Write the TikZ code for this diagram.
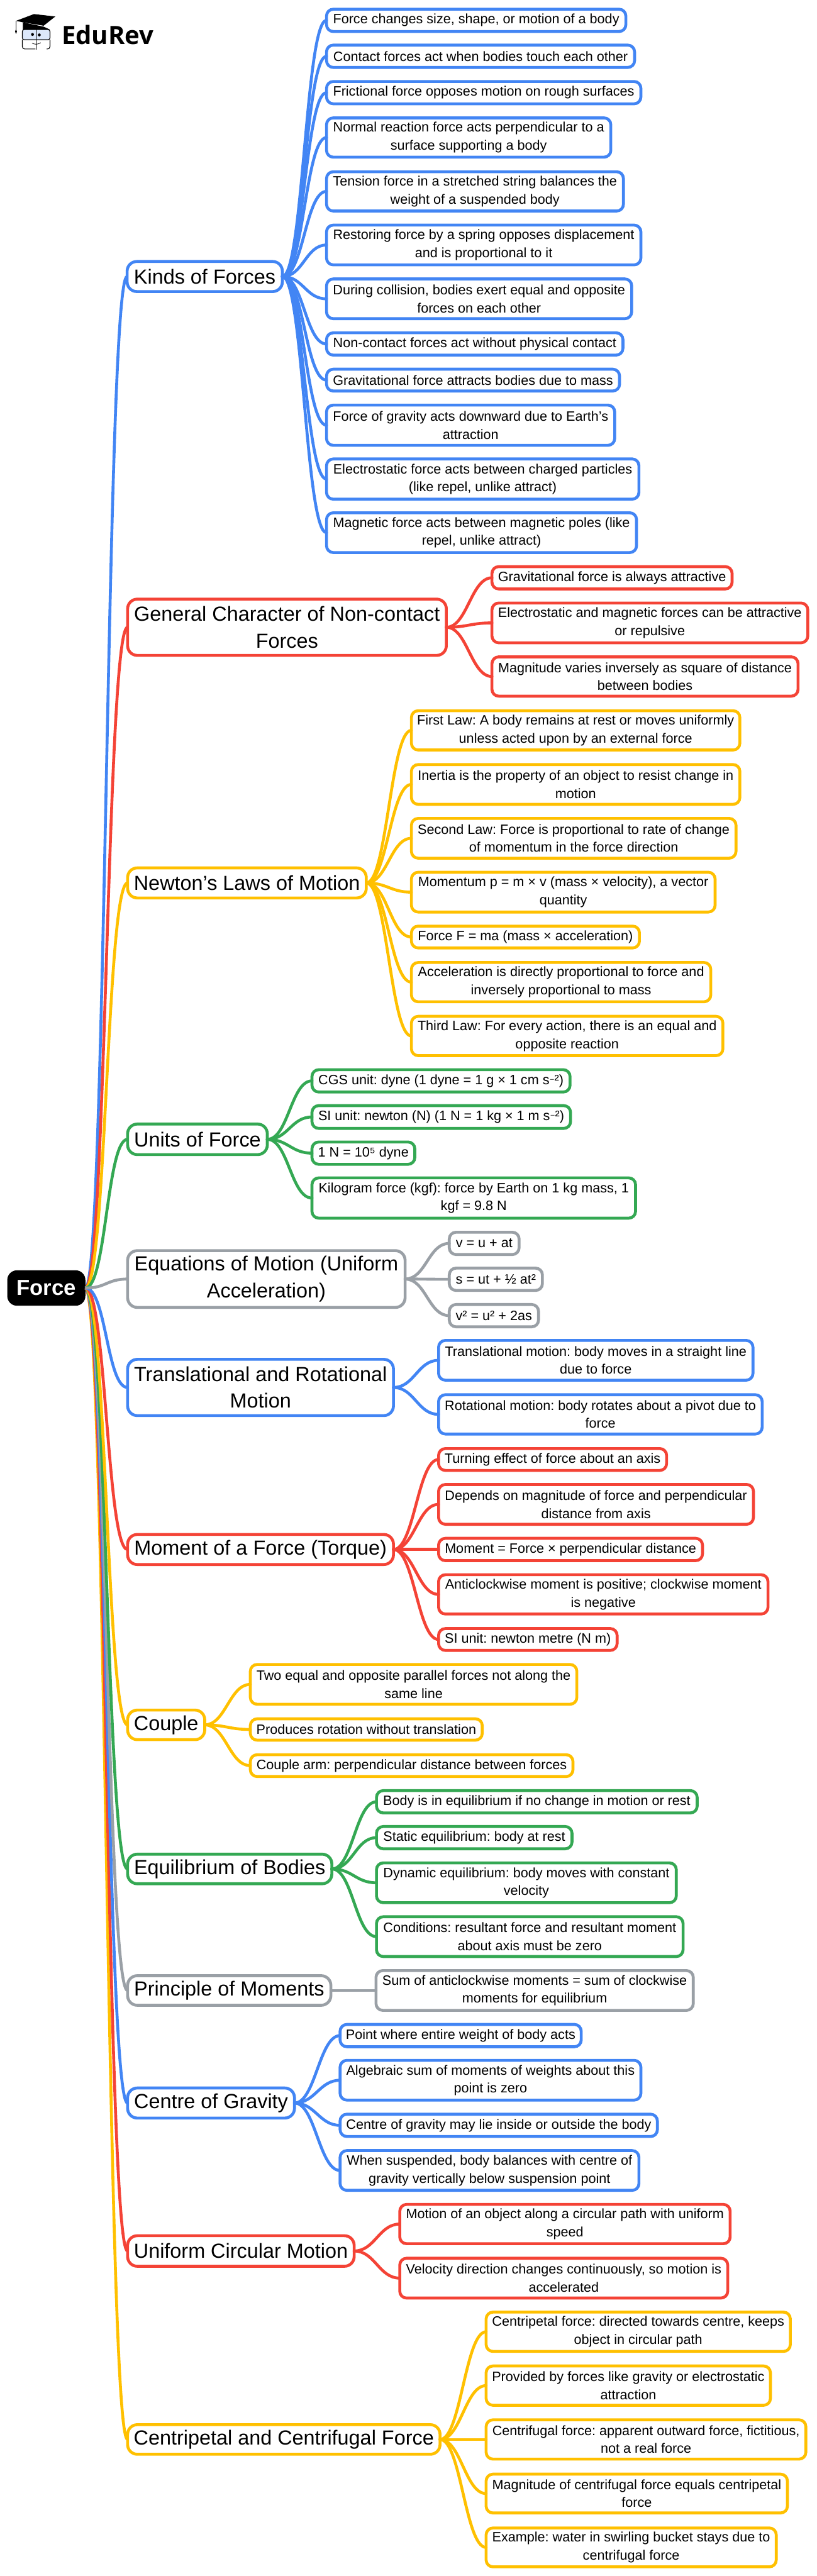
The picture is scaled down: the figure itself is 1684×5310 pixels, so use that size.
\documentclass[tikz,border=0pt]{standalone}
\usepackage{fontspec}
\setmainfont{Liberation Sans}
\newfontfamily\logofont{Open Sans}
\newfontfamily\supfont{DejaVu Sans}
\usepackage{xcolor}
\definecolor{mapblue}{HTML}{4285F4}
\definecolor{mapred}{HTML}{F44336}
\definecolor{mapyellow}{HTML}{FFC000}
\definecolor{mapgreen}{HTML}{34A853}
\definecolor{mapgrey}{HTML}{9AA0A6}
\definecolor{lensblue}{HTML}{DCE8FB}
\tikzset{
	leaf/.style={draw=#1,line width=6pt,rounded corners=14pt,fill=white,inner sep=0pt,outer sep=0pt,align=center,font=\fontsize{28}{37}\selectfont},
	branch/.style={draw=#1,line width=6pt,rounded corners=20pt,fill=white,inner sep=0pt,outer sep=0pt,align=center,font=\fontsize{42}{55}\selectfont},
	link/.style={draw=#1,line width=6pt}
}
\newcommand{\supminus}{{\supfont\fontsize{20}{37}\selectfont ⁻}}
% colour, parent, name, left, right, top, bottom, text
\newcommand{\sprig}[8]{
	\node[leaf=#1,minimum width={#5-#4-6},minimum height={#7-#6-6}] (#3) at ({(#4+#5)/2},{(#6+#7)/2}) {#8};
	\draw[link=#1,line cap=round] (#2.east) .. controls +(43,0) and +(-43,0) .. (#3.west);
}
\begin{document}
\frenchspacing
\begin{tikzpicture}[x=1pt,y=-1pt]
	\useasboundingbox (0,0) rectangle (1684,5310);
	
	%logo
	\fill (33,43) -- (70,29) -- (114,34) -- (90,53) -- (47,46) -- cycle;
	\fill (47,46) -- (90,55) -- (103,61) -- (47,61) -- cycle;
	\draw[line width=1pt] (33,43) -- (33,62);
	\fill (33,60) -- (35,65) -- (33,70) -- (31,65) -- cycle;
	\draw[line width=1.5pt,fill=lensblue,rounded corners=4pt] (46,61) rectangle (103,82);
	\draw[line width=1.5pt,rounded corners=5pt] (46,82) -- (46,101) -- (73,101) (103,82) -- (103,101) -- (96,101);
	\draw[line width=1.5pt] (74,60) -- (74,103);
	\fill (67,71) circle (3pt);
	\fill (81,72) circle (3pt);
	\draw[line width=1pt] (66,89) .. controls (72,92) and (78,92) .. (84,88);
	\node[anchor=base west,inner sep=0pt,font=\fontsize{52}{52}\logofont\bfseries] (logotext) at (127,91) {EduRev};
	
	\node[fill=black,text=white,rounded corners=20pt,inner sep=0pt,outer sep=0pt,minimum width=161,minimum height=73,font=\fontsize{45}{55}\selectfont\bfseries] (force) at (95.5,2655) {Force};
	
	%Kinds of Forces
	\node[branch=mapblue,minimum width=320,minimum height=62] (kinds) at (422,570) {Kinds of Forces};
	\sprig{mapblue}{kinds}{ka}{670}{1293}{16}{68}{Force changes size, shape, or motion of a body}
	\sprig{mapblue}{kinds}{kb}{670}{1311}{90}{142}{Contact forces act when bodies touch each other}
	\sprig{mapblue}{kinds}{kc}{670}{1324}{165}{217}{Frictional force opposes motion on rough surfaces}
	\sprig{mapblue}{kinds}{kd}{670}{1262}{240}{327}{Normal reaction force acts perpendicular to a\\surface supporting a body}
	\sprig{mapblue}{kinds}{ke}{670}{1288}{351}{438}{Tension force in a stretched string balances the\\weight of a suspended body}
	\sprig{mapblue}{kinds}{kf}{670}{1324}{461}{549}{Restoring force by a spring opposes displacement\\and is proportional to it}
	\sprig{mapblue}{kinds}{kg}{670}{1305}{572}{660}{During collision, bodies exert equal and opposite\\forces on each other}
	\sprig{mapblue}{kinds}{kh}{670}{1287}{683}{735}{Non-contact forces act without physical contact}
	\sprig{mapblue}{kinds}{ki}{670}{1280}{758}{809}{Gravitational force attracts bodies due to mass}
	\sprig{mapblue}{kinds}{kj}{670}{1270}{832}{921}{Force of gravity acts downward due to Earth’s\\attraction}
	\sprig{mapblue}{kinds}{kk}{670}{1320}{943}{1032}{Electrostatic force acts between charged particles\\(like repel, unlike attract)}
	\sprig{mapblue}{kinds}{kl}{670}{1315}{1054}{1142}{Magnetic force acts between magnetic poles (like\\repel, unlike attract)}
	
	%General Character
	\node[branch=mapred,minimum width=657,minimum height=116] (general) at (591.5,1293) {General Character of Non-contact\\Forces};
	\sprig{mapred}{general}{ga}{1011}{1512}{1165}{1217}{Gravitational force is always attractive}
	\sprig{mapred}{general}{gb}{1011}{1668}{1240}{1328}{Electrostatic and magnetic forces can be attractive\\or repulsive}
	\sprig{mapred}{general}{gc}{1011}{1648}{1351}{1438}{Magnitude varies inversely as square of distance\\between bodies}
	
	%Newton's Laws
	\node[branch=mapyellow,minimum width=492,minimum height=62] (newton) at (509,1820) {Newton’s Laws of Motion};
	\sprig{mapyellow}{newton}{na}{845}{1528}{1462}{1549}{First Law: A body remains at rest or moves uniformly\\unless acted upon by an external force}
	\sprig{mapyellow}{newton}{nb}{845}{1528}{1573}{1661}{Inertia is the property of an object to resist change in\\motion}
	\sprig{mapyellow}{newton}{nc}{845}{1520}{1684}{1772}{Second Law: Force is proportional to rate of change\\of momentum in the force direction}
	\sprig{mapyellow}{newton}{nd}{845}{1477}{1795}{1883}{Momentum p = m × v (mass × velocity), a vector\\quantity}
	\sprig{mapyellow}{newton}{ne}{845}{1321}{1906}{1957}{Force F = ma (mass × acceleration)}
	\sprig{mapyellow}{newton}{nf}{845}{1468}{1981}{2068}{Acceleration is directly proportional to force and\\inversely proportional to mass}
	\sprig{mapyellow}{newton}{ng}{845}{1493}{2092}{2179}{Third Law: For every action, there is an equal and\\opposite reaction}
	
	%Units
	\node[branch=mapgreen,minimum width=288,minimum height=63] (units) at (407,2348.5) {Units of Force};
	\sprig{mapgreen}{units}{ua}{640}{1178}{2202}{2254}{CGS unit: dyne (1 dyne = 1 g × 1 cm s\supminus²)}
	\sprig{mapgreen}{units}{ub}{640}{1179}{2276}{2329}{SI unit: newton (N) (1 N = 1 kg × 1 m s\supminus²)}
	\sprig{mapgreen}{units}{uc}{640}{858}{2351}{2403}{1 N = 10⁵ dyne}
	\sprig{mapgreen}{units}{ud}{640}{1313}{2425}{2514}{Kilogram force (kgf): force by Earth on 1 kg mass, 1\\kgf = 9.8 N}
	
	%Equations
	\node[branch=mapgrey,minimum width=572,minimum height=117] (equations) at (549,2636.5) {Equations of Motion (Uniform\\Acceleration)};
	\sprig{mapgrey}{equations}{ea}{923}{1073}{2537}{2589}{v = u + at}
	\sprig{mapgrey}{equations}{eb}{923}{1121}{2611}{2663}{s = ut + ½ at²}
	\sprig{mapgrey}{equations}{ec}{923}{1113}{2686}{2738}{v² = u² + 2as}
	
	%Translational
	\node[branch=mapblue,minimum width=548,minimum height=116] (motion) at (537,2860) {Translational and Rotational\\Motion};
	\sprig{mapblue}{motion}{ta}{901}{1555}{2760}{2848}{Translational motion: body moves in a straight line\\due to force}
	\sprig{mapblue}{motion}{tb}{901}{1574}{2872}{2959}{Rotational motion: body rotates about a pivot due to\\force}
	
	%Moment
	\node[branch=mapred,minimum width=548,minimum height=62] (moment) at (537,3194) {Moment of a Force (Torque)};
	\sprig{mapred}{moment}{ma}{901}{1377}{2983}{3034}{Turning effect of force about an axis}
	\sprig{mapred}{moment}{mb}{901}{1556}{3057}{3145}{Depends on magnitude of force and perpendicular\\distance from axis}
	\sprig{mapred}{moment}{mc}{901}{1451}{3168}{3220}{Moment = Force × perpendicular distance}
	\sprig{mapred}{moment}{md}{901}{1586}{3243}{3330}{Anticlockwise moment is positive; clockwise moment\\is negative}
	\sprig{mapred}{moment}{me}{901}{1275}{3354}{3405}{SI unit: newton metre (N m)}
	
	%Couple
	\node[branch=mapyellow,minimum width=159,minimum height=61] (couple) at (342.5,3555.5) {Couple};
	\sprig{mapyellow}{couple}{ca}{513}{1192}{3428}{3516}{Two equal and opposite parallel forces not along the\\same line}
	\sprig{mapyellow}{couple}{cb}{513}{997}{3540}{3590}{Produces rotation without translation}
	\sprig{mapyellow}{couple}{cc}{513}{1184}{3614}{3665}{Couple arm: perpendicular distance between forces}
	
	%Equilibrium
	\node[branch=mapgreen,minimum width=421,minimum height=61] (equilibrium) at (473.5,3852.5) {Equilibrium of Bodies};
	\sprig{mapgreen}{equilibrium}{qa}{773}{1440}{3688}{3740}{Body is in equilibrium if no change in motion or rest}
	\sprig{mapgreen}{equilibrium}{qb}{773}{1182}{3762}{3814}{Static equilibrium: body at rest}
	\sprig{mapgreen}{equilibrium}{qc}{773}{1397}{3837}{3925}{Dynamic equilibrium: body moves with constant\\velocity}
	\sprig{mapgreen}{equilibrium}{qd}{773}{1411}{3948}{4036}{Conditions: resultant force and resultant moment\\about axis must be zero}
	
	%Principle
	\node[branch=mapgrey,minimum width=419,minimum height=61] (principle) at (472.5,4103) {Principle of Moments};
	\sprig{mapgrey}{principle}{pa}{772}{1432}{4059}{4147}{Sum of anticlockwise moments = sum of clockwise\\moments for equilibrium}
	
	%Centre of Gravity
	\node[branch=mapblue,minimum width=344,minimum height=62] (gravity) at (435,4335) {Centre of Gravity};
	\sprig{mapblue}{gravity}{ra}{698}{1201}{4170}{4222}{Point where entire weight of body acts}
	\sprig{mapblue}{gravity}{rb}{698}{1324}{4244}{4332}{Algebraic sum of moments of weights about this\\point is zero}
	\sprig{mapblue}{gravity}{rc}{698}{1358}{4355}{4407}{Centre of gravity may lie inside or outside the body}
	\sprig{mapblue}{gravity}{rd}{698}{1320}{4430}{4518}{When suspended, body balances with centre of\\gravity vertically below suspension point}
	
	%Circular Motion
	\node[branch=mapred,minimum width=467,minimum height=63] (circular) at (496.5,4640) {Uniform Circular Motion};
	\sprig{mapred}{circular}{oa}{821}{1508}{4541}{4628}{Motion of an object along a circular path with uniform\\speed}
	\sprig{mapred}{circular}{ob}{821}{1503}{4652}{4740}{Velocity direction changes continuously, so motion is\\accelerated}
	
	%Centripetal
	\node[branch=mapyellow,minimum width=644,minimum height=61] (centripetal) at (585,5028.5) {Centripetal and Centrifugal Force};
	\sprig{mapyellow}{centripetal}{fa}{999}{1632}{4763}{4850}{Centripetal force: directed towards centre, keeps\\object in circular path}
	\sprig{mapyellow}{centripetal}{fb}{999}{1591}{4874}{4961}{Provided by forces like gravity or electrostatic\\attraction}
	\sprig{mapyellow}{centripetal}{fc}{999}{1664}{4985}{5072}{Centrifugal force: apparent outward force, fictitious,\\not a real force}
	\sprig{mapyellow}{centripetal}{fd}{999}{1626}{5097}{5183}{Magnitude of centrifugal force equals centripetal\\force}
	\sprig{mapyellow}{centripetal}{fe}{999}{1603}{5208}{5294}{Example: water in swirling bucket stays due to\\centrifugal force}
	
	%from the root, the ones nearest the middle last
	\foreach \shade/\target in {mapblue/kinds,mapred/general,mapyellow/newton,mapgreen/units,mapyellow/centripetal,mapred/circular,mapblue/gravity,mapgrey/principle,mapgreen/equilibrium,mapyellow/couple,mapred/moment,mapblue/motion,mapgrey/equations}{
		\draw[link=\shade] (force.east) .. controls +(43,0) and +(-43,0) .. (\target.west);
	}
\end{tikzpicture}
\end{document}
